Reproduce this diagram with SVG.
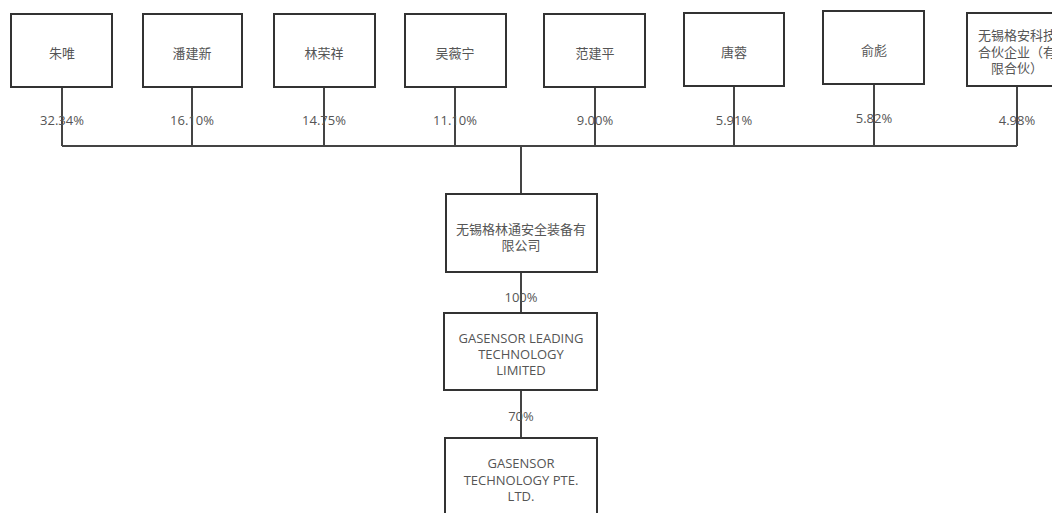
<svg xmlns="http://www.w3.org/2000/svg" width="1052" height="513" viewBox="0 0 1052 513">
<style>
.box{fill:#fff;stroke:#333;stroke-width:2}
.ln{fill:none;stroke:#444;stroke-width:2}
.t{font-family:"Open Sans","Noto Sans CJK SC",sans-serif;font-size:13px;fill:#555;text-anchor:middle}
.p{font-family:"Open Sans",sans-serif;font-size:13px;fill:#555;text-anchor:middle}
</style>
<rect width="1052" height="513" fill="#fff"/>
<g id="connectors">
<path class="ln" d="M62,87V146M192,87V146M324,87V146M455,87V146M595,87V146M734,86V146M874,84V146M1017,86V146M62,146H1017M521,146V194M521,272V313M521,390V438"/>
<text class="p" x="62" y="125">32.34%</text>
<text class="p" x="192" y="125">16.10%</text>
<text class="p" x="324" y="125">14.75%</text>
<text class="p" x="455" y="125">11.10%</text>
<text class="p" x="595" y="125">9.00%</text>
<text class="p" x="734" y="125">5.91%</text>
<text class="p" x="874" y="123">5.82%</text>
<text class="p" x="1017" y="125">4.98%</text>
<text class="p" x="521" y="302">100%</text>
<text class="p" x="521" y="421">70%</text>
</g>
<g id="n1"><rect class="box" x="11" y="14" width="101" height="73"/><text class="t" x="62" y="58">朱唯</text></g>
<g id="n2"><rect class="box" x="143" y="14" width="99" height="73"/><text class="t" x="192" y="58">潘建新</text></g>
<g id="n3"><rect class="box" x="274" y="14" width="101" height="73"/><text class="t" x="324" y="58">林荣祥</text></g>
<g id="n4"><rect class="box" x="405" y="14" width="101" height="73"/><text class="t" x="455" y="58">吴薇宁</text></g>
<g id="n5"><rect class="box" x="544" y="14" width="101" height="73"/><text class="t" x="595" y="58">范建平</text></g>
<g id="n6"><rect class="box" x="684" y="13" width="100" height="73"/><text class="t" x="734" y="57">唐蓉</text></g>
<g id="n7"><rect class="box" x="823" y="11" width="101" height="73"/><text class="t" x="874" y="55">俞彪</text></g>
<g id="n8"><rect class="box" x="967" y="13" width="101" height="73"/><text class="t" x="1017" y="40">无锡格安科技</text><text class="t" x="1017" y="57">合伙企业（有</text><text class="t" x="1017" y="73">限合伙）</text></g>
<g id="n9"><rect class="box" x="446" y="194" width="151" height="78"/><text class="t" x="521" y="234">无锡格林通安全装备有</text><text class="t" x="521" y="250">限公司</text></g>
<g id="n10"><rect class="box" x="444" y="313" width="153" height="77"/><text class="t" x="521" y="343">GASENSOR LEADING</text><text class="t" x="521" y="359">TECHNOLOGY</text><text class="t" x="521" y="375">LIMITED</text></g>
<g id="n11"><rect class="box" x="445" y="438" width="152" height="95"/><text class="t" x="521" y="468">GASENSOR</text><text class="t" x="521" y="485">TECHNOLOGY PTE.</text><text class="t" x="521" y="501">LTD.</text></g>
</svg>
